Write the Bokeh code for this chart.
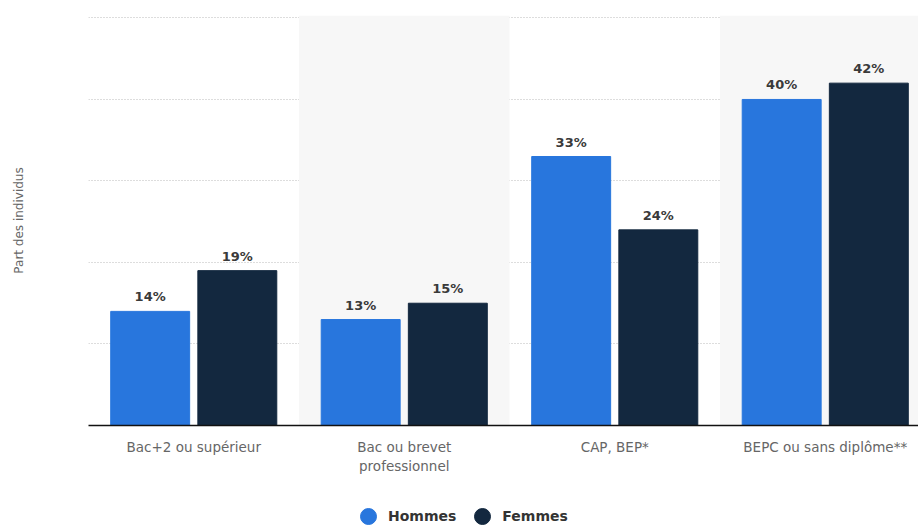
import numpy as np
from bokeh.plotting import figure
from bokeh.layouts import column
from bokeh.models import ColumnDataSource, Range1d, FixedTicker, Legend, LegendItem
from bokeh.core.properties import value
from bokeh.embed import file_html
from bokeh.resources import INLINE

categories = ["Bac+2 ou supérieur", "Bac ou brevet\nprofessionnel", "CAP, BEP*", "BEPC ou sans diplôme**"]
hommes = [14, 13, 33, 40]
femmes = [19, 15, 24, 42]
series_names = ["Hommes", "Femmes"]
colors = ["#2876dd", "#13283f"]
y_ticks = [10, 20, 30, 40, 50]

FONT = "DejaVu Sans"
Y_MAX = 50.3
X_START, X_END = -0.5, 3.443

p = figure(width=918, height=480, output_backend="svg", toolbar_location=None,
           x_range=Range1d(X_START, X_END), y_range=Range1d(0, Y_MAX),
           min_border_left=88, min_border_right=0, min_border_top=15, min_border_bottom=55)
p.outline_line_color = None
p.background_fill_color = "white"
p.border_fill_color = "white"

# alternating background bands
idx = list(range(len(categories)))
band_src = ColumnDataSource(dict(x=[i for i in idx if i % 2 == 1],
                                 top=[Y_MAX for i in idx if i % 2 == 1]))
p.vbar(x="x", top="top", bottom=0, width=1.0, source=band_src,
       fill_color="#f7f7f7", line_color=None)

offset = 0.207
bw = 0.375
src_h = ColumnDataSource(dict(x=[i - offset for i in idx], top=hommes,
                              lab=[f"{v}%" for v in hommes]))
src_f = ColumnDataSource(dict(x=[i + offset for i in idx], top=femmes,
                              lab=[f"{v}%" for v in femmes]))
p.vbar(x="x", top="top", width=bw, source=src_h, fill_color=colors[0], line_color=colors[0])
p.vbar(x="x", top="top", width=bw, source=src_f, fill_color=colors[1], line_color=colors[1])

for s in (src_h, src_f):
    p.text(x="x", y="top", text="lab", source=s, text_align="center", text_baseline="bottom",
           y_offset=-7, text_font=value(FONT), text_font_size="13px",
           text_font_style="bold", text_color="#3a3a3a")

# axes
p.xaxis.ticker = FixedTicker(ticks=idx)
p.xaxis.major_label_overrides = {i: c for i, c in zip(idx, categories)}
p.xaxis.major_tick_line_color = None
p.xaxis.minor_tick_line_color = None
p.xaxis.major_label_standoff = 7
p.xaxis.major_label_text_font = FONT
p.xaxis.major_label_text_font_size = "13.5px"
p.xaxis.major_label_text_color = "#666666"
p.xaxis.axis_line_color = "#111111"
p.xaxis.axis_line_width = 1.5
p.xgrid.grid_line_color = None

p.yaxis.ticker = FixedTicker(ticks=y_ticks)
p.yaxis.major_label_overrides = {t: "" for t in y_ticks}
p.yaxis.major_label_standoff = 0
p.yaxis.major_tick_line_color = None
p.yaxis.minor_tick_line_color = None
p.yaxis.axis_line_color = None
p.yaxis.axis_label = "Part des individus"
p.yaxis.axis_label_standoff = 57
p.yaxis.axis_label_text_font = FONT
p.yaxis.axis_label_text_font_size = "12px"
p.yaxis.axis_label_text_font_style = "normal"
p.yaxis.axis_label_text_color = "#666666"
p.ygrid.ticker = FixedTicker(ticks=y_ticks)
p.ygrid.grid_line_color = "#bbbbbb"
p.ygrid.grid_line_dash = "1 2"
p.ygrid.grid_line_width = 1

# legend strip (frame aligned with the chart's frame by the column layout)
lg = figure(width=918, height=45, output_backend="svg", toolbar_location=None,
            x_range=Range1d(0, 1), y_range=Range1d(0, 1), x_axis_type=None, y_axis_type=None,
            min_border_left=0, min_border_right=0, min_border_top=0, min_border_bottom=0)
lg.outline_line_color = None
lg.xgrid.visible = False
lg.ygrid.visible = False
proxy = ColumnDataSource(dict(x=np.array([np.nan]), y=np.array([np.nan])))
r_h = lg.scatter(x="x", y="y", source=proxy, marker="circle", fill_color=colors[0], line_color=colors[0])
r_f = lg.scatter(x="x", y="y", source=proxy, marker="circle", fill_color=colors[1], line_color=colors[1])
legend = Legend(items=[LegendItem(label=series_names[0], renderers=[r_h]),
                       LegendItem(label=series_names[1], renderers=[r_f])],
                orientation="horizontal", location=(260, -11),
                glyph_width=40, glyph_height=40, label_standoff=0, spacing=6,
                padding=0, margin=0, border_line_color=None, background_fill_alpha=0,
                label_text_font=FONT, label_text_font_size="14px",
                label_text_font_style="bold", label_text_color="#333333")
lg.add_layout(legend, "center")

layout = column(p, lg, spacing=0)
open("out.html", "w").write(file_html(layout, INLINE))
